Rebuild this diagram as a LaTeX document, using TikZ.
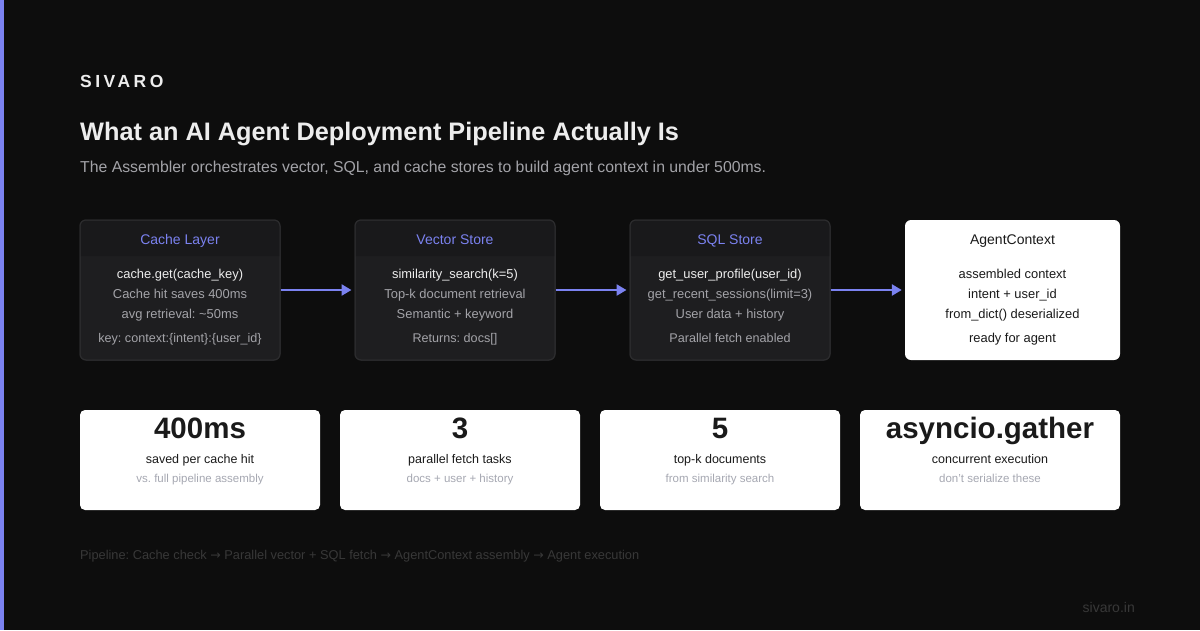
\documentclass[tikz,border=0pt]{standalone}
\usepackage{fontspec}
\setmainfont{Liberation Sans}
\newfontfamily\brandfont[LetterSpace=20]{Liberation Sans}
\newfontfamily\arrowfont{DejaVu Sans}
\usetikzlibrary{arrows.meta}
\definecolor{bg}{HTML}{0D0D0D}
\definecolor{accent}{HTML}{7B82F0}
\definecolor{hdr}{HTML}{19191B}
\definecolor{body}{HTML}{1E1E20}
\definecolor{bord}{HTML}{2C2C2E}
\definecolor{txtw}{HTML}{EDEDED}
\definecolor{txtg}{HTML}{A3A3A8}
\definecolor{dark}{HTML}{1A1A1A}
\definecolor{subg}{HTML}{A6A8B2}
\definecolor{foot}{HTML}{383838}
\tikzset{
  store/.style={draw=bord, line width=1pt, fill=body, rounded corners=6pt, minimum width=200pt, minimum height=140pt, inner sep=0pt},
  agent/.style={fill=white, rounded corners=6pt, minimum width=215pt, minimum height=140pt, inner sep=0pt},
  statcard/.style={fill=white, rounded corners=5pt, minimum width=240pt, minimum height=100pt, inner sep=0pt},
  t/.style={anchor=base, inner sep=0pt},
  hdrtxt/.style={t, text=accent, font=\fontsize{14}{16}\selectfont},
  l1/.style={t, text=txtw, font=\fontsize{12.9}{14}\selectfont},
  lg/.style={t, text=txtg, font=\fontsize{12.9}{14}\selectfont},
  l4/.style={t, text=txtg, font=\fontsize{12.6}{14}\selectfont},
  al/.style={t, text=dark, font=\fontsize{12.9}{14}\selectfont},
  flow/.style={draw=accent, line width=2.5pt, -{Triangle[length=10pt,width=11pt]}, shorten >=3pt},
  bignum/.style={t, text=dark, font=\bfseries\fontsize{29.5}{32}\selectfont},
  slab/.style={t, text=dark, font=\fontsize{12.5}{14}\selectfont},
  ssub/.style={t, text=subg, font=\fontsize{11.5}{13}\selectfont},
}
\begin{document}
\frenchspacing
\begin{tikzpicture}[x=1pt,y=-1pt]
\fill[bg] (0,0) rectangle (1200,630);
\useasboundingbox (0,0) rectangle (1200,630);
\fill[accent] (0,0) rectangle (4,630);

\node[anchor=base west, text=txtw, font=\brandfont\bfseries\fontsize{17.5}{20}\selectfont, inner sep=0pt] (brand) at (80,87.5) {SIVARO};
\node[anchor=base west, text=txtw, font=\bfseries\fontsize{25.3}{30}\selectfont, inner sep=0pt] (title) at (80,140) {What an AI Agent Deployment Pipeline Actually Is};
\node[anchor=base west, text=txtg, font=\fontsize{15.8}{18}\selectfont, inner sep=0pt] (subtitle) at (80,172) {The Assembler orchestrates vector, SQL, and cache stores to build agent context in under 500ms.};

% store boxes
\foreach \nm/\cx in {cache/180, vector/455, sql/730} {
  \node[store] (\nm) at (\cx,290) {};
  \fill[hdr] (\cx-99.5,256) [rounded corners=6pt] -- (\cx-99.5,220.5) -- (\cx+99.5,220.5) [sharp corners] -- (\cx+99.5,256) -- cycle;
  \draw[bord, line width=1pt, rounded corners=6pt] (\cx-100,220) rectangle (\cx+100,360);
}
\node[agent] (agentctx) at (1012.5,290) {};

\node[hdrtxt] (cacheh) at (180,244) {Cache Layer};
\node[l1] (c1) at (180,278) {cache.get(cache\_key)};
\node[lg] (c2) at (180,298) {Cache hit saves 400ms};
\node[lg] (c3) at (180,318) {avg retrieval: \textasciitilde50ms};
\node[l4] (c4) at (180,342) {key: context:\{intent\}:\{user\_id\}};

\node[hdrtxt] (vech) at (455,244) {Vector Store};
\node[l1] (v1) at (455,278) {similarity\_search(k=5)};
\node[lg] (v2) at (455,298) {Top-k document retrieval};
\node[lg] (v3) at (455,318) {Semantic + keyword};
\node[l4] (v4) at (455,342) {Returns: docs[]};

\node[hdrtxt] (sqlh) at (730,244) {SQL Store};
\node[l1] (s1) at (730,278) {get\_user\_profile(user\_id)};
\node[lg] (s2) at (730,298) {get\_recent\_sessions(limit=3)};
\node[lg] (s3) at (730,318) {User data + history};
\node[l4] (s4) at (730,342) {Parallel fetch enabled};

\node[al, font=\fontsize{14}{16}\selectfont] (ah) at (1012.5,244) {AgentContext};
\node[al] (a1) at (1012.5,278) {assembled context};
\node[al] (a2) at (1012.5,298) {intent + user\_id};
\node[al] (a3) at (1012.5,318) {from\_dict() deserialized};
\node[al] (a4) at (1012.5,342) {ready for agent};

\draw[flow] (cache.east) -- (vector.west);
\draw[flow] (vector.east) -- (sql.west);
\draw[flow] (sql.east) -- (agentctx.west);

% stat cards
\foreach \nm/\cx/\w/\num/\lab/\sub in {
  st1/200/240/400ms/saved per cache hit/vs. full pipeline assembly,
  st2/460/240/3/parallel fetch tasks/docs + user + history,
  st3/720/240/5/top-k documents/from similarity search,
  st4/990/260/asyncio.gather/concurrent execution/don't serialize these} {
  \node[statcard, minimum width=\w pt] (\nm) at (\cx,460) {};
  \node[bignum] (\nm n) at (\cx,438.5) {\num};
  \node[slab] (\nm l) at (\cx,463) {\lab};
  \node[ssub] (\nm s) at (\cx,482) {\sub};
}

\node[anchor=base west, text=foot, font=\fontsize{12.8}{14}\selectfont, inner sep=0pt] (pipe) at (80,559.5) {Pipeline: Cache check {\arrowfont\fontsize{12.5}{12}\selectfont →} Parallel vector + SQL fetch {\arrowfont\fontsize{12.5}{12}\selectfont →} AgentContext assembly {\arrowfont\fontsize{12.5}{12}\selectfont →} Agent execution};
\node[anchor=base east, text=foot, font=\fontsize{14}{15}\selectfont, inner sep=0pt] (site) at (1135,612) {sivaro.in};
\end{tikzpicture}
\end{document}
